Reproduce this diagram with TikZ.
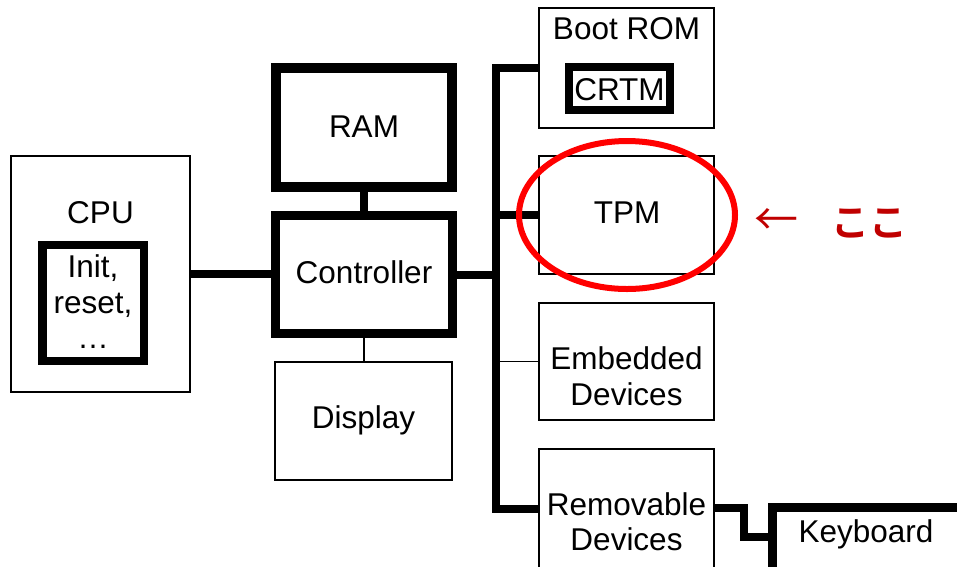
\documentclass[tikz,border=0pt]{standalone}
\usepackage{fontspec}
\setmainfont{Liberation Sans}
\newfontfamily\jpfont{Noto Sans CJK JP}[BoldFont={Noto Sans CJK JP Bold}]
\usetikzlibrary{shapes.geometric}
\definecolor{hired}{HTML}{C00000}
\begin{document}
\begin{tikzpicture}[x=1pt,y=-1pt,
  every node/.style={inner sep=0pt, outer sep=0pt},
  lbl/.style={font=\fontsize{31.5}{36}\selectfont, anchor=base, text=black},
  thinbox/.style={draw=black, line width=1.5pt, rectangle},
  thickbox/.style={draw=black, line width=9pt, rectangle},
  conn/.style={draw=black, line width=8pt},
  thinconn/.style={draw=black, line width=1.5pt},
]
\useasboundingbox (0,0) rectangle (957,566);
\clip (0,0) rectangle (957,566);

% boxes
\node[thinbox, minimum width=179pt, minimum height=236pt] (cpu) at (100.5,274) {};
\node[thickbox, line width=8.5pt, minimum width=101.5pt, minimum height=116pt] (init) at (93.25,303) {};
\node[thickbox, line width=10.5pt, minimum width=176pt, minimum height=119pt] (ram) at (364,127.5) {};
\node[thickbox, minimum width=177pt, minimum height=118pt] (ctrl) at (364,274.5) {};
\node[thinbox, minimum width=177pt, minimum height=118pt] (disp) at (363.5,421) {};
\node[thinbox, minimum width=175pt, minimum height=120pt] (boot) at (626.5,68) {};
\node[thickbox, line width=8pt, minimum width=101pt, minimum height=43pt] (crtm) at (619.5,88.5) {};
\node[thinbox, minimum width=175pt, minimum height=118pt] (tpm) at (626.5,215) {};
\node[thinbox, minimum width=175pt, minimum height=117pt] (emb) at (626.5,361.5) {};
\node[thinbox, minimum width=175pt, minimum height=122pt] (rem) at (626.5,510) {};
\node[thickbox, minimum width=237.5pt, minimum height=112.5pt] (kb) at (891.25,563.75) {};

% labels
\node[lbl] (tcpu) at (100.5,223) {CPU};
\node[lbl] (tinit1) at (93,277) {Init,};
\node[lbl] (tinit2) at (93,313) {reset,};
\node[lbl] (tinit3) at (93,348) {\dots};
\node[lbl] (tram) at (364,137) {RAM};
\node[lbl] (tctrl) at (364,283) {Controller};
\node[lbl] (tdisp) at (363.5,428) {Display};
\node[lbl] (tboot) at (626.5,39) {Boot ROM};
\node[lbl] (tcrtm) at (619.5,100) {CRTM};
\node[lbl] (ttpm) at (627,223) {TPM};
\node[lbl] (temb1) at (626.5,369) {Embedded};
\node[lbl] (temb2) at (626.5,405) {Devices};
\node[lbl] (trem1) at (626.5,515) {Removable};
\node[lbl] (trem2) at (626.5,550) {Devices};
\node[lbl] (tkb) at (866,542) {Keyboard};

% connectors
\coordinate (bustop) at (495.5,68);
\coordinate (busbot) at (495.5,508.5);
\coordinate (rk1) at (744,507.5);
\coordinate (rk2) at (744,537);
\draw[conn] (cpu.east) -- (cpu.east -| ctrl.west);
\draw[conn] (ram.south) -- (ctrl.north);
\draw[thinconn] (ctrl.south) -- (ctrl.south |- disp.north);
\draw[conn] (ctrl.east) -- (ctrl.east -| bustop);
\draw[conn, line join=miter] (boot.west) -- (bustop) -- (busbot) -- (busbot -| rem.west);
\draw[conn] (bustop |- tpm.west) -- (tpm.west);
\draw[thinconn] (bustop |- emb.west) -- (emb.west);
\draw[conn, line join=miter] (rem.east |- rk1) -- (rk1) -- (rk2) -- (rk2 -| kb.west);

% highlight
\node[ellipse, draw=red, line width=6pt, minimum width=216pt, minimum height=148pt] (mark) at (627,215) {};
\node[text=hired, font=\jpfont\fontsize{44}{48}\selectfont] (arrow) at (776,222) {←};
\node[text=hired, font=\jpfont\bfseries\fontsize{38}{44}\selectfont] (koko) at (869.5,223) {ここ};
\end{tikzpicture}
\end{document}
